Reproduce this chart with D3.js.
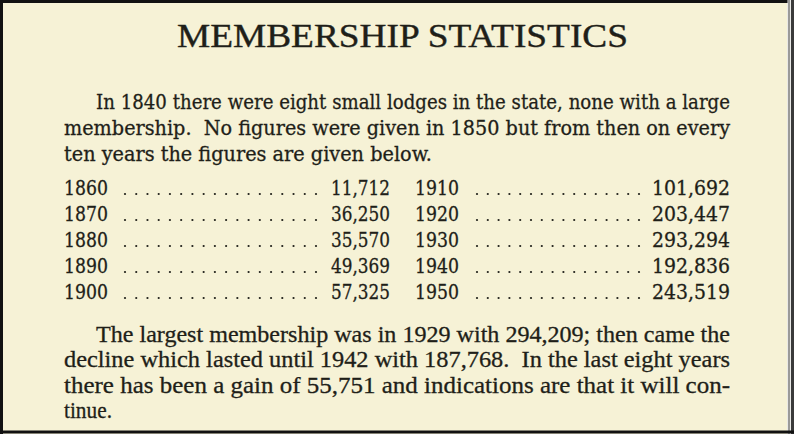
<!DOCTYPE html>
<html>
<head>
<meta charset="utf-8">
<script src="https://cdn.jsdelivr.net/npm/d3@7"></script>
<style>
  body { margin: 0; background: #ffffff; }
  svg { display: block; }
</style>
</head>
<body>
<svg id="page" width="794" height="434"></svg>
<script>
// data --------------------------------------------------------------
var title = "MEMBERSHIP STATISTICS";
var intro = [
  "In 1840 there were eight small lodges in the state, none with a large",
  "membership.  No figures were given in 1850 but from then on every",
  "ten years the figures are given below."
];
var years = [1860, 1870, 1880, 1890, 1900, 1910, 1920, 1930, 1940, 1950];
var members = [11712, 36250, 35570, 49369, 57325, 101692, 203447, 293294, 192836, 243519];
var outro = [
  "The largest membership was in 1929 with 294,209; then came the",
  "decline which lasted until 1942 with 187,768.  In the last eight years",
  "there has been a gain of 55,751 and indications are that it will con-",
  "tinue."
];

var ink = "#1f1f19";
var fmt = d3.format(",");
var svg = d3.select("#page");

// paper + frame
svg.append("rect").attr("x", 0).attr("y", 0).attr("width", 794).attr("height", 434).attr("fill", "#f6f2d6");
svg.append("rect").attr("x", 787).attr("y", 0).attr("width", 7).attr("height", 434).attr("fill", "#e9e9e6");
svg.append("rect").attr("x", 788).attr("y", 0).attr("width", 2).attr("height", 434).attr("fill", "#9a9a98");
svg.append("rect").attr("x", 791).attr("y", 0).attr("width", 3).attr("height", 434).attr("fill", "#3a3a3a");
svg.append("path")
  .attr("d", "M1.5,434 V1.5 H787.5 M0,432 H794")
  .attr("fill", "none").attr("stroke", "#111").attr("stroke-width", 3);

// title
svg.append("text")
  .attr("x", 177).attr("y", 47)
  .attr("textLength", 451).attr("lengthAdjust", "spacingAndGlyphs")
  .attr("font-family", "Liberation Serif, Times New Roman, serif").attr("font-size", 34)
  .attr("fill", ink).attr("stroke", ink).attr("stroke-width", 0.4)
  .text(title);

// paragraph helper
function para(lines, y0, step, font, size, lastW) {
  lines.forEach(function (l, i) {
    var x = i == 0 ? 96 : 64;
    var w = i == lines.length - 1 ? lastW : 730 - x;
    svg.append("text")
      .attr("x", x).attr("y", y0 + i * step)
      .attr("textLength", w).attr("lengthAdjust", "spacingAndGlyphs")
      .attr("font-family", font).attr("font-size", size)
      .style("white-space", "pre")
      .attr("fill", ink).attr("stroke", ink).attr("stroke-width", 0.3)
      .text(l);
  });
}

para(intro, 109, 26, "DejaVu Serif, serif", 19.5, 368);
para(outro, 342, 25.3, "Liberation Serif, Times New Roman, serif", 23, 48);

// table ---------------------------------------------------------------
var rows = d3.scaleLinear().domain([0, 4]).range([195, 299]);
var colYear = d3.scaleOrdinal().domain([0, 1]).range([64, 415]);
var colVal = d3.scaleOrdinal().domain([0, 1]).range([390, 730]);
// dot leaders: first and last dot of each column
var dotFrom = d3.scaleOrdinal().domain([0, 1]).range([125, 477]);
var dotTo = d3.scaleOrdinal().domain([0, 1]).range([316, 639]);
var dotCount = d3.scaleOrdinal().domain([0, 1]).range([18, 16]);

var tbl = years.map(function (y, i) {
  return { year: y, value: members[i], col: Math.floor(i / 5), row: i % 5 };
});

var g = svg.append("g")
  .attr("font-family", "DejaVu Serif, serif").attr("font-size", 19.5)
  .attr("fill", ink).attr("stroke", ink).attr("stroke-width", 0.3);

g.selectAll(".yr").data(tbl).enter().append("text")
  .attr("class", "yr")
  .attr("x", function (d) { return colYear(d.col); })
  .attr("y", function (d) { return rows(d.row); })
  .attr("textLength", 44).attr("lengthAdjust", "spacingAndGlyphs")
  .text(function (d) { return d.year; });

g.selectAll(".val").data(tbl).enter().append("text")
  .attr("class", "val")
  .attr("x", function (d) { return colVal(d.col); })
  .attr("y", function (d) { return rows(d.row); })
  .attr("text-anchor", "end")
  .attr("textLength", function (d) { return d.value > 99999 ? 78 : 59; })
  .attr("lengthAdjust", "spacingAndGlyphs")
  .text(function (d) { return fmt(d.value); });

tbl.forEach(function (d) {
  var n = dotCount(d.col);
  var dx = d3.scaleLinear().domain([0, n - 1]).range([dotFrom(d.col), dotTo(d.col)]);
  g.selectAll(null).data(d3.range(n)).enter().append("circle")
    .attr("cx", function (k) { return dx(k); })
    .attr("cy", rows(d.row) - 1)
    .attr("r", 1.1)
    .attr("stroke", "none");
});
</script>
</body>
</html>
